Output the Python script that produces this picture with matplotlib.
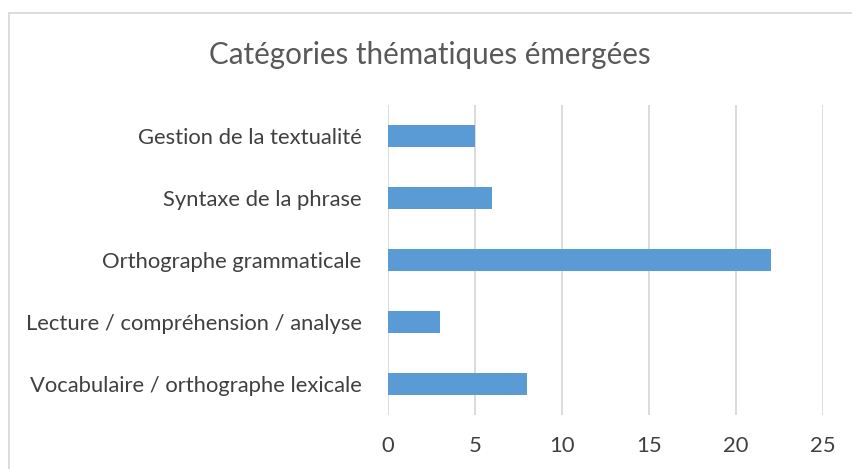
import matplotlib.pyplot as plt
import numpy as np
from matplotlib.patches import Rectangle

categories = [
    "Vocabulaire / orthographe lexicale",
    "Lecture / compréhension / analyse",
    "Orthographe grammaticale",
    "Syntaxe de la phrase",
    "Gestion de la textualité",
]
values = [8, 3, 22, 6, 5]
xticks = [0, 5, 10, 15, 20, 25]

plt.rcParams['font.family'] = ['Lato', 'DejaVu Sans']

fig = plt.figure(figsize=(8.53, 4.69), dpi=100)
ax = fig.add_axes([388 / 853, 1 - 415 / 469, (823 - 388) / 853, 310 / 469])

y = np.arange(len(categories))
ax.barh(y, values, height=0.35, color='#5B9BD5', zorder=3)

ax.set_xlim(0, 25)
ax.set_ylim(-0.5, len(categories) - 0.5)
ax.set_xticks(xticks)
ax.set_yticks(y)
ax.set_yticklabels(categories)
ax.tick_params(axis='both', length=0, labelsize=15.8, colors='#404040')
ax.tick_params(axis='y', pad=19)
ax.tick_params(axis='x', pad=15)
ax.grid(axis='x', color='#D9D9D9', linewidth=1.3, zorder=0)
for s in ax.spines.values():
    s.set_visible(False)

fig.text(430 / 853, 1 - 55 / 469, "Catégories thématiques émergées",
         ha='center', va='center', fontsize=21.3, color='#595959')

fig.patches.append(Rectangle((9 / 853, -0.1), 1.2, 1 - 13 / 469 + 0.1,
                             transform=fig.transFigure, fill=False,
                             edgecolor='#D9D9D9', linewidth=1.3))

fig.savefig("out.png", dpi=100)
